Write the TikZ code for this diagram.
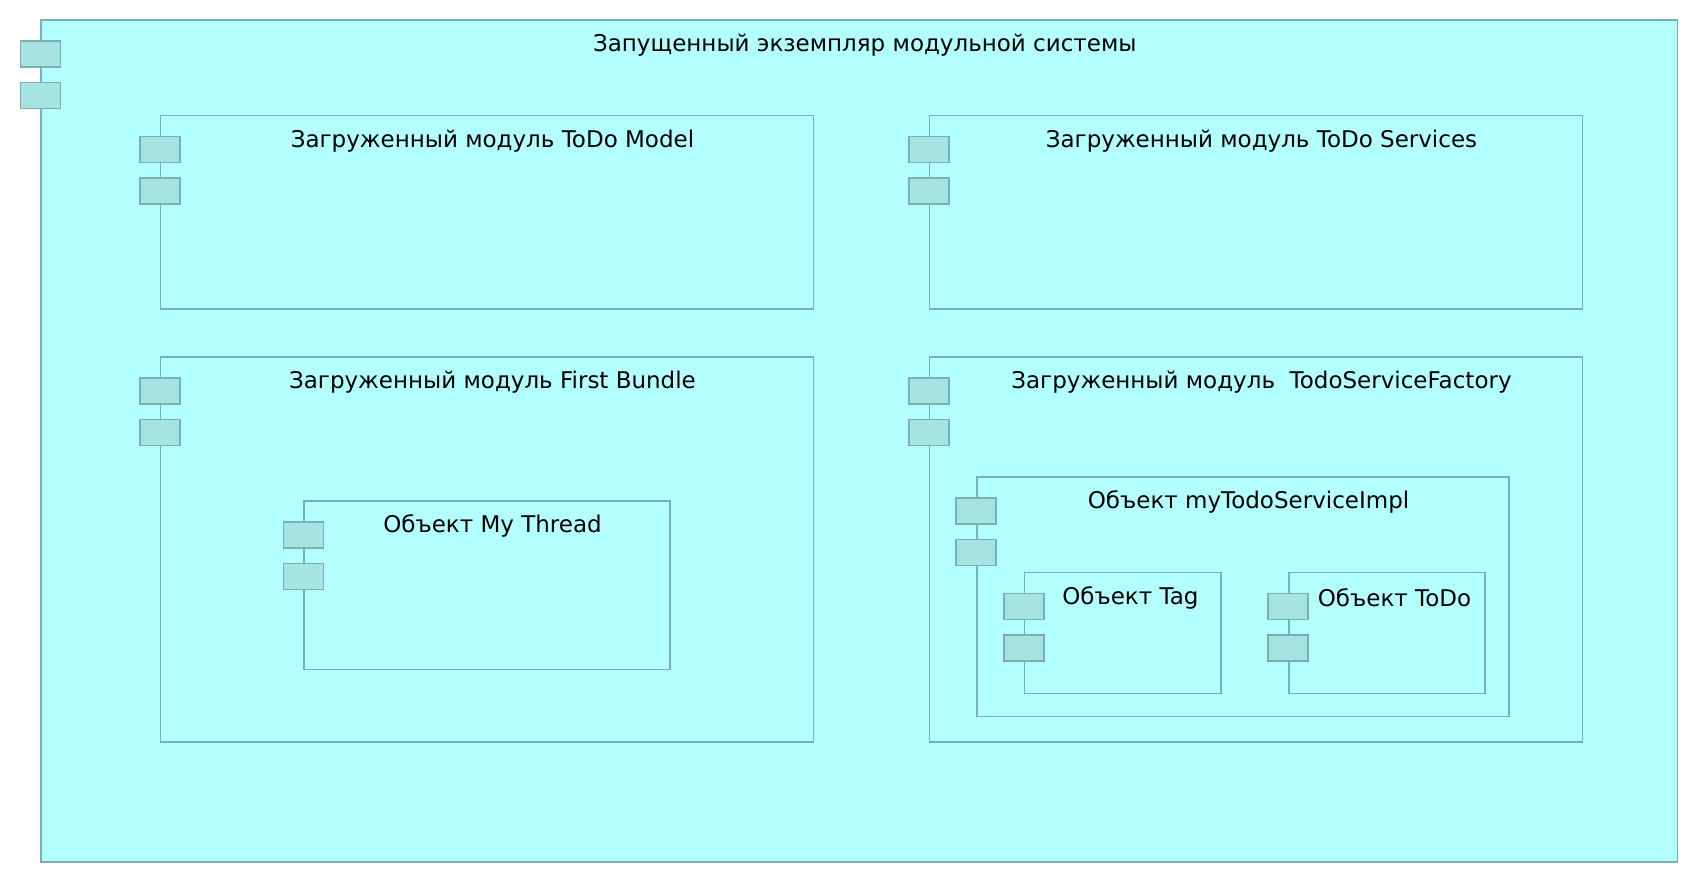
\documentclass[tikz,border=0pt]{standalone}
\usepackage{fontspec}
\setmainfont{DejaVu Sans}
\usetikzlibrary{positioning}
\definecolor{compfill}{RGB}{179,255,255}
\definecolor{compline}{RGB}{122,176,176}
\definecolor{portfill}{RGB}{166,227,227}
\tikzset{
comp/.style = {rectangle, draw=compline, fill=compfill, line width=1.5pt,
               minimum width=#1, inner sep=0pt},
comp/.default = 652.8pt, % width of a module box
port/.style = {rectangle, draw=compline, fill=portfill, line width=1.5pt,
               minimum width=40pt, minimum height=26pt, inner sep=0pt},
title/.style = {font=\fontsize{23}{27}\selectfont, inner sep=0pt}
}

\begin{document}
\begin{tikzpicture}[x=1pt, y=-1pt]
    \useasboundingbox (0,0) rectangle (1698,882);

    \node[comp=1636.6pt, minimum height=841.9pt] (outer) at (859.3,441) {};
    \node[comp, minimum height=193.5pt] (model) at (487,212.5) {};
    \node[comp, minimum height=193.5pt] (services) at (1256,212.5) {};
    \node[comp, minimum height=385pt] (bundle) at (487,549.7) {};
    \node[comp, minimum height=385pt] (factory) at (1256,549.7) {};
    \node[comp=365.8pt, minimum height=168.6pt] (thread) at (487,585.1) {};
    \node[comp=532.2pt, minimum height=239.4pt] (impl) at (1243,596.6) {};
    \node[comp=196.4pt, minimum height=120.7pt] (tag) at (1122.9,633) {};
    \node[comp=196.4pt, minimum height=120.7pt] (todo) at (1387,633) {};

    % two ports on the left edge of every box
    \foreach \b in {outer,model,services,bundle,factory,thread,impl,tag,todo}{
        \node[port, below=21pt of \b.north west] (\b-p1) {};
        \node[port, below=14pt of \b-p1] (\b-p2) {};
    }

    \node[title] (outerTitle) at ([xshift=5.5pt,yshift=-26pt]outer.north) {Запущенный экземпляр модульной системы};
    \node[title] (modelTitle) at ([xshift=5.5pt,yshift=-26pt]model.north) {Загруженный модуль ToDo Model};
    \node[title] (servicesTitle) at ([xshift=5.5pt,yshift=-26pt]services.north) {Загруженный модуль ToDo Services};
    \node[title] (bundleTitle) at ([xshift=5.5pt,yshift=-26pt]bundle.north) {Загруженный модуль First Bundle};
    \node[title] (factoryTitle) at ([xshift=5.5pt,yshift=-26pt]factory.north) {Загруженный модуль~ TodoServiceFactory};
    \node[title] (threadTitle) at ([xshift=5.5pt,yshift=-26pt]thread.north) {Объект My Thread};
    \node[title] (implTitle) at ([xshift=5.5pt,yshift=-26pt]impl.north) {Объект myTodoServiceImpl};
    \node[title] (tagTitle) at ([xshift=7.5pt,yshift=-26pt]tag.north) {Объект Tag};
    \node[title] (todoTitle) at ([xshift=7.5pt,yshift=-26pt]todo.north) {Объект ToDo};

\end{tikzpicture}
\end{document}
